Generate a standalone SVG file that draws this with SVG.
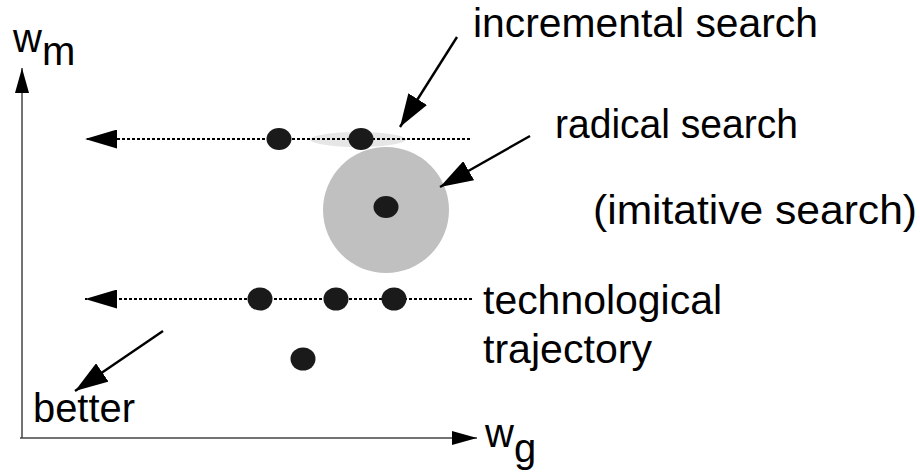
<svg xmlns="http://www.w3.org/2000/svg" width="920" height="472" viewBox="0 0 920 472">
<style>
text{font-family:"Liberation Sans",Arial,sans-serif;font-size:40px;fill:#000}
.dot{fill:#1a1a1a}
.traj{stroke:#000;stroke-width:2;stroke-dasharray:3 2;fill:none}
.ptr{stroke:#000;stroke-width:2.4;fill:none}
.axis{stroke:#444;stroke-width:1.5;fill:none}
</style>
<defs>
<marker id="ah" viewBox="0 0 32 19" refX="32" refY="9.5" markerWidth="32" markerHeight="19" markerUnits="userSpaceOnUse" orient="auto"><path d="M0,0 L32,9.5 L0,19 Z" fill="#000"/></marker>
<marker id="ph" viewBox="0 0 33 22" refX="33" refY="11" markerWidth="33" markerHeight="22" markerUnits="userSpaceOnUse" orient="auto"><path d="M0,0 L33,11 L0,22 Z" fill="#000"/></marker>
<marker id="axh" viewBox="0 0 25 14" refX="25" refY="7" markerWidth="25" markerHeight="14" markerUnits="userSpaceOnUse" orient="auto"><path d="M0,0 L25,7 L0,14 Z" fill="#000"/></marker>
</defs>
<g id="regions">
<circle id="radical-region" cx="386" cy="210" r="63" fill="#c0c0c0"/>
<ellipse id="incremental-region" cx="358" cy="139.5" rx="48" ry="7.5" fill="#e6e6e6"/>
</g>
<g id="connectors">
<path class="axis" d="M22,438 V68" marker-end="url(#axh)"/>
<path class="axis" d="M20,438 H477" marker-end="url(#axh)"/>
<path class="traj" d="M470,139 H85" marker-end="url(#ah)"/>
<path class="traj" d="M472,299 H85" marker-end="url(#ah)"/>
<path class="ptr" d="M457,37 L400,127" marker-end="url(#ph)"/>
<path class="ptr" d="M530,136 L440,187" marker-end="url(#ph)"/>
<path class="ptr" d="M163,331 L75,391" marker-end="url(#ph)"/>
</g>
<g id="points">
<ellipse class="dot" cx="279" cy="139" rx="12.5" ry="11"/>
<ellipse class="dot" cx="361" cy="139" rx="12.5" ry="11"/>
<ellipse class="dot" cx="386" cy="207" rx="12.5" ry="11"/>
<ellipse class="dot" cx="260" cy="299" rx="12.5" ry="11.5"/>
<ellipse class="dot" cx="336" cy="299" rx="12.5" ry="11.5"/>
<ellipse class="dot" cx="394" cy="299" rx="12.5" ry="11.5"/>
<ellipse class="dot" cx="303" cy="359" rx="12.5" ry="11.5"/>
</g>
<g id="labels">
<g id="axis-y-label"><text x="13" y="52">w<tspan dy="13">m</tspan></text></g>
<g id="axis-x-label"><text x="485" y="447">w<tspan dy="15">g</tspan></text></g>
<g id="label-incremental"><text x="473" y="37" textLength="345" lengthAdjust="spacingAndGlyphs">incremental search</text></g>
<g id="label-radical"><text x="555" y="138" textLength="243" lengthAdjust="spacingAndGlyphs">radical search</text></g>
<g id="label-imitative"><text x="593" y="224" textLength="324" lengthAdjust="spacingAndGlyphs">(imitative search)</text></g>
<g id="label-trajectory"><text x="483" y="314" textLength="239" lengthAdjust="spacingAndGlyphs">technological</text><text x="483" y="363" textLength="169" lengthAdjust="spacingAndGlyphs">trajectory</text></g>
<g id="label-better"><text x="33" y="422" textLength="102" lengthAdjust="spacingAndGlyphs">better</text></g>
</g>
</svg>
